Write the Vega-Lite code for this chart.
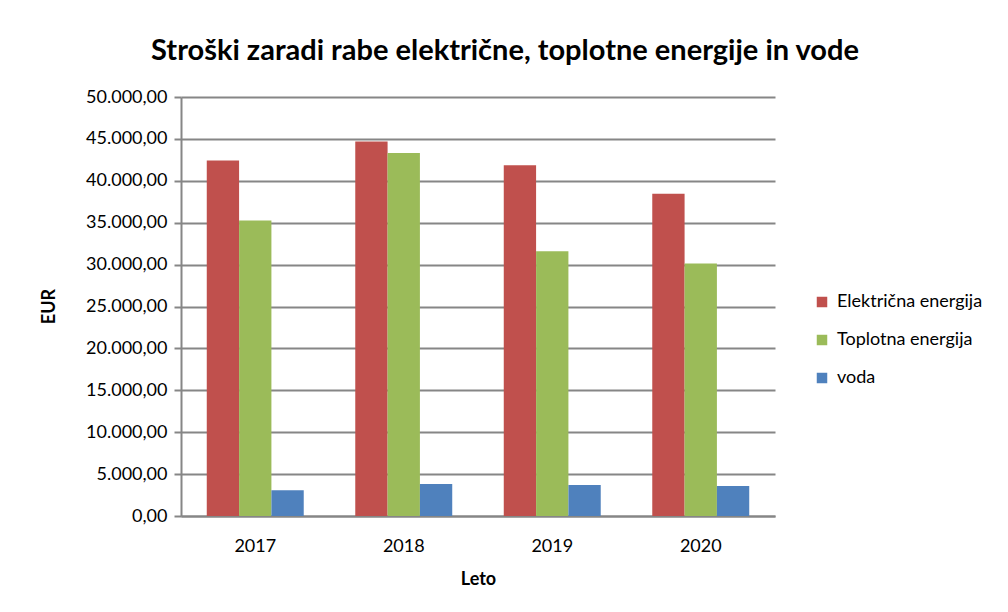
{
  "$schema": "https://vega.github.io/schema/vega-lite/v6.json",
  "width": 594,
  "height": 419,
  "autosize": {"type": "none"},
  "padding": {"left": 181, "top": 97, "right": 233, "bottom": 96},
  "background": "white",
  "config": {
    "locale": {"number": {"decimal": ",", "thousands": ".", "grouping": [3], "currency": ["", " €"]}},
    "font": "Lato",
    "view": {"stroke": null}
  },
  "title": {
    "text": "Stroški zaradi rabe električne, toplotne energije in vode",
    "fontSize": 29,
    "fontWeight": "bold",
    "font": "Lato",
    "color": "#000000",
    "anchor": "middle",
    "dx": 27,
    "offset": 22
  },
  "data": {
    "values": [
      {"leto": "2017", "vrsta": "Električna energija", "eur": 42420},
      {"leto": "2017", "vrsta": "Toplotna energija", "eur": 35270},
      {"leto": "2017", "vrsta": "voda", "eur": 3070},
      {"leto": "2018", "vrsta": "Električna energija", "eur": 44690},
      {"leto": "2018", "vrsta": "Toplotna energija", "eur": 43310},
      {"leto": "2018", "vrsta": "voda", "eur": 3820},
      {"leto": "2019", "vrsta": "Električna energija", "eur": 41870},
      {"leto": "2019", "vrsta": "Toplotna energija", "eur": 31600},
      {"leto": "2019", "vrsta": "voda", "eur": 3700},
      {"leto": "2020", "vrsta": "Električna energija", "eur": 38440},
      {"leto": "2020", "vrsta": "Toplotna energija", "eur": 30120},
      {"leto": "2020", "vrsta": "voda", "eur": 3580}
    ]
  },
  "mark": {"type": "bar"},
  "encoding": {
    "x": {
      "field": "leto",
      "type": "nominal",
      "scale": {"paddingInner": 0.347, "paddingOuter": 0.1735},
      "axis": {
        "title": "Leto",
        "titleFontSize": 18,
        "titleFontWeight": "bold",
        "titleColor": "#000000",
        "titleBaseline": "middle",
        "titleY": 63,
        "labelAngle": 0,
        "labelFontSize": 18,
        "labelColor": "#000000",
        "labelPadding": 30,
        "labelBaseline": "middle",
        "ticks": false,
        "domainColor": "#868686",
        "domainWidth": 2
      }
    },
    "xOffset": {
      "field": "vrsta",
      "type": "nominal",
      "sort": ["Električna energija", "Toplotna energija", "voda"],
      "scale": {"paddingInner": 0, "paddingOuter": 0}
    },
    "y": {
      "field": "eur",
      "type": "quantitative",
      "scale": {"domain": [0, 50000], "nice": false},
      "axis": {
        "title": "EUR",
        "titleFontSize": 18,
        "titleFontWeight": "bold",
        "titleColor": "#000000",
        "titleX": -123,
        "titleY": 209,
        "values": [0, 5000, 10000, 15000, 20000, 25000, 30000, 35000, 40000, 45000, 50000],
        "labelOverlap": false,
        "format": ",.2f",
        "labelFontSize": 18,
        "labelColor": "#000000",
        "labelPadding": 7,
        "tickSize": 7,
        "tickColor": "#868686",
        "tickWidth": 2,
        "domainColor": "#868686",
        "domainWidth": 2,
        "gridColor": "#868686",
        "gridWidth": 2
      }
    },
    "color": {
      "field": "vrsta",
      "type": "nominal",
      "sort": ["Električna energija", "Toplotna energija", "voda"],
      "scale": {
        "domain": ["Električna energija", "Toplotna energija", "voda"],
        "range": ["#C0504D", "#9BBB59", "#4F81BD"]
      },
      "legend": {
        "title": null,
        "orient": "none",
        "legendX": 632,
        "legendY": 196,
        "symbolType": "square",
        "symbolSize": 110,
        "symbolStrokeWidth": 0,
        "labelFontSize": 18,
        "labelColor": "#000000",
        "labelOffset": 6,
        "rowPadding": 20
      }
    }
  }
}
